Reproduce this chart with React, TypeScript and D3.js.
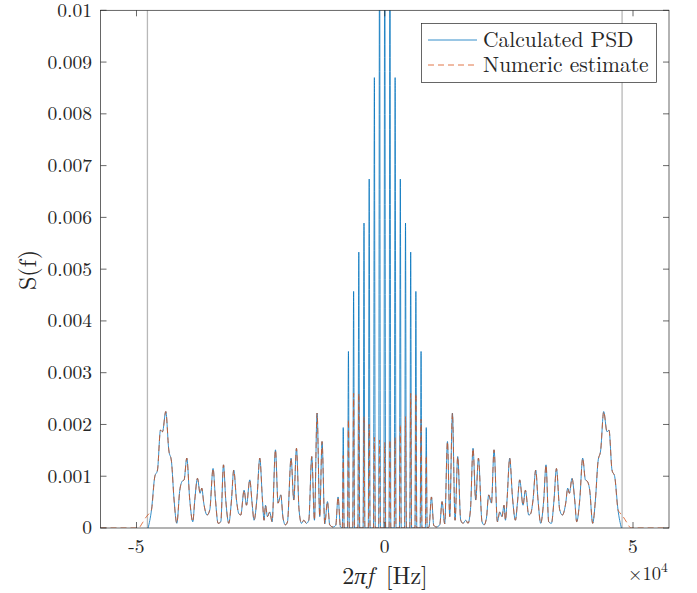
import React from 'react';
import * as d3 from 'd3';

const W = 697;
const H = 593;

// axis values
const xDomain: [number, number] = [-5.725e4, 5.725e4];
const yDomain: [number, number] = [0, 0.01];
const xTicks = [-5e4, 0, 5e4];
const xTickLabels = ['-5', '0', '5'];
const yTicks = [0, 0.001, 0.002, 0.003, 0.004, 0.005, 0.006, 0.007, 0.008, 0.009, 0.01];
const yTickLabels = ['0', '0.001', '0.002', '0.003', '0.004', '0.005', '0.006', '0.007', '0.008', '0.009', '0.01'];
const bandEdges = [-4.78e4, 4.78e4];

// left wing of the spectrum: [2πf in 1e4 Hz, S in 1e-3]
const leftWing: [number, number][] = [
  [-4.766, 0], [-4.698, 0.35], [-4.632, 0.99], [-4.577, 1.12], [-4.517, 1.89], [-4.476, 1.86],
  [-4.41, 2.25], [-4.35, 1.51], [-4.295, 1.28], [-4.243, 0.54], [-4.188, 0.09], [-4.128, 0.73],
  [-4.082, 0.9], [-4.041, 0.93], [-3.987, 1.35], [-3.927, 0.54], [-3.866, 0.12], [-3.826, 0.54],
  [-3.772, 0.96], [-3.719, 0.67], [-3.685, 0.77], [-3.645, 0.48], [-3.578, 0.25], [-3.524, 0.35],
  [-3.458, 1.15], [-3.409, 0.54], [-3.357, 0.09], [-3.302, 0.12], [-3.248, 1.22], [-3.202, 0.54],
  [-3.141, 0.09], [-3.087, 0.54], [-3.041, 1.12], [-2.986, 0.54], [-2.94, 0.28], [-2.9, 0.25],
  [-2.833, 0.73], [-2.785, 0.44], [-2.718, 0.93], [-2.672, 0.48], [-2.632, 0.15], [-2.572, 0.6],
  [-2.517, 1.35], [-2.463, 0.54], [-2.431, 0.15], [-2.402, 0.44], [-2.362, 0.22], [-2.316, 0.31],
  [-2.269, 0.12], [-2.201, 1.51], [-2.149, 0.48], [-2.094, 0.64], [-2.048, 0.19], [-2.0, 0.06],
  [-1.959, 0.12], [-1.887, 1.35], [-1.832, 0.54], [-1.778, 1.54], [-1.726, 0.35], [-1.677, 0.09],
  [-1.631, 0.15], [-1.577, 0.09], [-1.53, 0.15], [-1.47, 1.38], [-1.416, 0.15], [-1.363, 2.22],
  [-1.309, 0.22], [-1.263, 1.67], [-1.208, 0.08], [-1.154, 0.51], [-1.108, 0.06], [-1.041, 0.02],
  [-0.987, 0.05], [-0.9405, 0.6], [-0.892, 0.02],
];

// numeric estimate leaks a little beyond the band edge
const orangeLead: [number, number][] = [
  [-5.725, 0], [-4.96, 0], [-4.88, 0.1], [-4.8, 0.22], [-4.73, 0.3],
];

// central comb: harmonic offsets (1e4 Hz) and peak heights (1e-3)
const combOffset = [0, 0.1045, 0.209, 0.3135, 0.418, 0.5225, 0.627, 0.7315, 0.836];
const combCalculated = [12.5, 12.5, 8.7, 6.74, 5.89, 5.33, 4.57, 3.41, 1.94];
const combNumeric = [1.65, 1.7, 1.75, 2.0, 2.15, 2.6, 2.6, 2.1, 1.4];

const SPIKE_HALF = 0.018;

function buildSeries(lead: [number, number][], wing: [number, number][], comb: number[]) {
  const left: [number, number][] = [...lead, ...wing];
  const center: [number, number][] = [];
  for (let i = combOffset.length - 1; i >= 1; i--) {
    const f = -combOffset[i];
    center.push([f - SPIKE_HALF, 0], [f, comb[i]], [f + SPIKE_HALF, 0]);
  }
  center.push([-SPIKE_HALF, 0], [0, comb[0]], [SPIKE_HALF, 0]);
  for (let i = 1; i < combOffset.length; i++) {
    const f = combOffset[i];
    center.push([f - SPIKE_HALF, 0], [f, comb[i]], [f + SPIKE_HALF, 0]);
  }
  const right: [number, number][] = left.slice().reverse().map(([f, v]) => [-f, v]);
  return [...left, ...center, ...right].map(([f, v]) => [f * 1e4, v * 1e-3] as [number, number]);
}

const calculated = buildSeries([], leftWing, combCalculated);
const numeric = buildSeries(orangeLead, leftWing.slice(1), combNumeric);

const PL = 100.5, PR = 669, PT = 10.3, PB = 528;
const FONT = '"Latin Modern Roman"';
const AX = '#262626';

export default function App() {
  const x = d3.scaleLinear().domain(xDomain).range([PL, PR]);
  const y = d3.scaleLinear().domain(yDomain).range([PB, PT]);
  const line = d3
    .line<[number, number]>()
    .x((d) => x(d[0]))
    .y((d) => y(d[1]))
    .curve(d3.curveMonotoneX);
  const txt = { fontFamily: FONT, fill: AX } as React.CSSProperties;

  return (
    <svg width={W} height={H} style={{ position: 'absolute', left: 0, top: 0, background: '#fff' }}>
      <defs>
        <clipPath id="plot">
          <rect x={PL} y={PT} width={PR - PL} height={PB - PT} />
        </clipPath>
      </defs>
      <rect x={0} y={0} width={W} height={H} fill="#fff" />
      <g clipPath="url(#plot)">
        {bandEdges.map((b) => (
          <line key={b} x1={x(b)} x2={x(b)} y1={PT} y2={PB} stroke="#b8b8b8" strokeWidth={1.3} />
        ))}
        <path d={line(calculated) || ''} fill="none" stroke="#0072BD" strokeWidth={0.8} />
        <path d={line(numeric) || ''} fill="none" stroke="#D95319" strokeWidth={0.8} strokeDasharray="6,4" />
      </g>
      {/* box */}
      <rect x={PL} y={PT} width={PR - PL} height={PB - PT} fill="none" stroke={AX} strokeWidth={0.7} />
      {/* y ticks */}
      {yTicks.map((t, i) => (
        <g key={t}>
          <line x1={PL} x2={PL + 6} y1={y(t)} y2={y(t)} stroke={AX} strokeWidth={0.7} />
          <line x1={PR} x2={PR - 6} y1={y(t)} y2={y(t)} stroke={AX} strokeWidth={0.7} />
          <text x={92} y={y(t)} dy="0.33em" textAnchor="end" style={{ ...txt, fontSize: 19.5 }}>
            {yTickLabels[i]}
          </text>
        </g>
      ))}
      {/* x ticks */}
      {xTicks.map((t, i) => (
        <g key={t}>
          <line x1={x(t)} x2={x(t)} y1={PB} y2={PB - 6} stroke={AX} strokeWidth={0.7} />
          <line x1={x(t)} x2={x(t)} y1={PT} y2={PT + 6} stroke={AX} strokeWidth={0.7} />
          <text x={x(t)} y={553} textAnchor="middle" style={{ ...txt, fontSize: 19.5 }}>
            {xTickLabels[i]}
          </text>
        </g>
      ))}
      {/* exponent */}
      <text x={628} y={580} style={{ ...txt, fontSize: 18.5 }}>
        ×10<tspan style={{ fontSize: 13.5 }} dy={-8}>4</tspan>
      </text>
      {/* axis labels */}
      <text x={385} y={584} textAnchor="middle" style={{ ...txt, fontSize: 24 }}>
        2<tspan style={{ fontStyle: 'italic' }}>πf</tspan>{'\u00a0'}[Hz]
      </text>
      <text transform="translate(36,270) rotate(-90)" textAnchor="middle" style={{ ...txt, fontSize: 24 }}>
        S(f)
      </text>
      {/* legend */}
      <rect x={421.5} y={23.5} width={235} height={59} fill="#fff" stroke={AX} strokeWidth={0.7} />
      <line x1={428} x2={477} y1={40} y2={40} stroke="#0072BD" strokeWidth={0.8} />
      <line x1={428} x2={477} y1={65} y2={65} stroke="#D95319" strokeWidth={0.8} strokeDasharray="6,4" />
      <text x={483} y={47} style={{ ...txt, fontSize: 21.5 }}>Calculated PSD</text>
      <text x={483} y={72} style={{ ...txt, fontSize: 21.5 }}>Numeric estimate</text>
    </svg>
  );
}
